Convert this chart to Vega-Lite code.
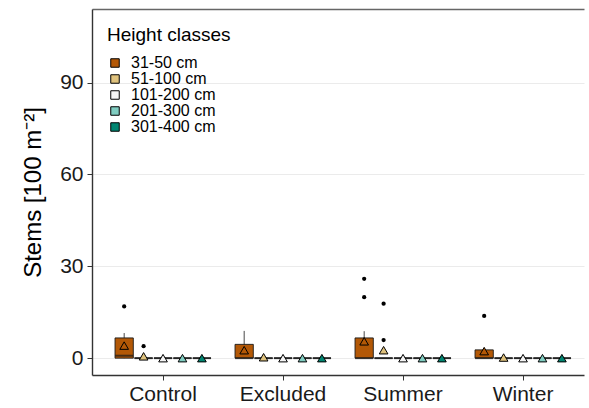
{
  "$schema": "https://vega.github.io/schema/vega-lite/v6.json",
  "width": 492,
  "height": 366,
  "autosize": {"type": "none"},
  "padding": {"left": 92, "top": 9, "right": 5, "bottom": 33},
  "background": "white",
  "config": {
    "font": "Liberation Sans",
    "view": {"stroke": "transparent", "strokeWidth": 0},
    "axis": {"domainColor": "#333333", "domainWidth": 1.4, "tickColor": "#333333", "tickSize": 5, "labelColor": "#1a1a1a", "labelFont": "Liberation Sans", "titleFont": "Liberation Sans"}
  },
  "datasets": {
    "stats": [
      {"site": "Control", "cls": "31-50 cm", "lower": 0, "q1": 0, "median": 0.8, "q3": 6.6, "upper": 8.2, "mean": 4.1},
      {"site": "Control", "cls": "51-100 cm", "lower": 0, "q1": 0, "median": 0, "q3": 0, "upper": 0, "mean": 0.6},
      {"site": "Control", "cls": "101-200 cm", "lower": 0, "q1": 0, "median": 0, "q3": 0, "upper": 0, "mean": 0},
      {"site": "Control", "cls": "201-300 cm", "lower": 0, "q1": 0, "median": 0, "q3": 0, "upper": 0, "mean": 0},
      {"site": "Control", "cls": "301-400 cm", "lower": 0, "q1": 0, "median": 0, "q3": 0, "upper": 0, "mean": 0},
      {"site": "Excluded", "cls": "31-50 cm", "lower": 0, "q1": 0, "median": 0, "q3": 4.5, "upper": 8.9, "mean": 2.6},
      {"site": "Excluded", "cls": "51-100 cm", "lower": 0, "q1": 0, "median": 0, "q3": 0, "upper": 0, "mean": 0.3},
      {"site": "Excluded", "cls": "101-200 cm", "lower": 0, "q1": 0, "median": 0, "q3": 0, "upper": 0, "mean": 0},
      {"site": "Excluded", "cls": "201-300 cm", "lower": 0, "q1": 0, "median": 0, "q3": 0, "upper": 0, "mean": 0},
      {"site": "Excluded", "cls": "301-400 cm", "lower": 0, "q1": 0, "median": 0, "q3": 0, "upper": 0, "mean": 0},
      {"site": "Summer", "cls": "31-50 cm", "lower": 0, "q1": 0, "median": 0, "q3": 6.6, "upper": 8.8, "mean": 5.5},
      {"site": "Summer", "cls": "51-100 cm", "lower": 0, "q1": 0, "median": 0, "q3": 0, "upper": 0, "mean": 2.6},
      {"site": "Summer", "cls": "101-200 cm", "lower": 0, "q1": 0, "median": 0, "q3": 0, "upper": 0, "mean": 0},
      {"site": "Summer", "cls": "201-300 cm", "lower": 0, "q1": 0, "median": 0, "q3": 0, "upper": 0, "mean": 0},
      {"site": "Summer", "cls": "301-400 cm", "lower": 0, "q1": 0, "median": 0, "q3": 0, "upper": 0, "mean": 0},
      {"site": "Winter", "cls": "31-50 cm", "lower": 0, "q1": 0, "median": 0, "q3": 2.7, "upper": 2.7, "mean": 2.3},
      {"site": "Winter", "cls": "51-100 cm", "lower": 0, "q1": 0, "median": 0, "q3": 0, "upper": 0, "mean": 0.2},
      {"site": "Winter", "cls": "101-200 cm", "lower": 0, "q1": 0, "median": 0, "q3": 0, "upper": 0, "mean": 0},
      {"site": "Winter", "cls": "201-300 cm", "lower": 0, "q1": 0, "median": 0, "q3": 0, "upper": 0, "mean": 0},
      {"site": "Winter", "cls": "301-400 cm", "lower": 0, "q1": 0, "median": 0, "q3": 0, "upper": 0, "mean": 0}
    ],
    "outliers": [
      {"site": "Control", "cls": "31-50 cm", "value": 16.9},
      {"site": "Control", "cls": "51-100 cm", "value": 3.9},
      {"site": "Summer", "cls": "31-50 cm", "value": 25.9},
      {"site": "Summer", "cls": "31-50 cm", "value": 19.9},
      {"site": "Summer", "cls": "51-100 cm", "value": 17.8},
      {"site": "Summer", "cls": "51-100 cm", "value": 5.9},
      {"site": "Winter", "cls": "31-50 cm", "value": 13.8}
    ]
  },
  "resolve": {"axis": {"x": "independent"}},
  "layer": [
    {
      "data": {"name": "stats"},
      "mark": {"type": "rule", "color": "#333333", "strokeWidth": 0.9},
      "encoding": {
        "x": {
          "field": "site", "type": "nominal",
          "scale": {"domain": ["Control", "Excluded", "Summer", "Winter"], "paddingInner": 0.2, "paddingOuter": 0.15, "align": 0.64},
          "axis": {"title": null, "labelAngle": 0, "labelFontSize": 21, "labelPadding": 3, "grid": false}
        },
        "xOffset": {
          "field": "cls", "type": "nominal",
          "scale": {"domain": ["31-50 cm", "51-100 cm", "101-200 cm", "201-300 cm", "301-400 cm"], "paddingInner": 0.06, "paddingOuter": 0}
        },
        "y": {"field": "lower", "type": "quantitative",
          "scale": {"domain": [-5.5, 114], "nice": false, "zero": false},
          "axis": {"title": "Stems [100 m⁻²]", "titleFontSize": 24, "titleFontWeight": "normal", "titleColor": "#000000", "titlePadding": 14, "values": [0, 30, 60, 90], "labelFontSize": 21, "labelPadding": 4, "grid": true, "gridColor": "#ebebeb", "gridWidth": 1.2}},
        "y2": {"field": "upper"}
      }
    },
    {
      "data": {"name": "stats"},
      "mark": {"type": "bar", "stroke": "#1a1a1a", "strokeWidth": 0.9},
      "encoding": {
        "x": {"field": "site", "type": "nominal", "axis": {"orient": "top", "title": null, "labels": false, "ticks": false, "domain": true, "domainColor": "#666666", "domainWidth": 1.3, "grid": false}},
        "xOffset": {"field": "cls", "type": "nominal"},
        "y": {"field": "q1", "type": "quantitative"},
        "y2": {"field": "q3"},
        "color": {
          "field": "cls", "type": "nominal",
          "scale": {"domain": ["31-50 cm", "51-100 cm", "101-200 cm", "201-300 cm", "301-400 cm"], "range": ["#b35806", "#dfc27d", "#f5f5f5", "#80cdc1", "#018571"]},
          "legend": {"title": "Height classes", "orient": "none", "legendX": 15, "legendY": 17, "padding": 0, "titleFontSize": 19, "titleFontWeight": "normal", "titleColor": "#000000", "titlePadding": 10, "labelFontSize": 16, "labelColor": "#000000", "labelOffset": 8, "rowPadding": -2.5, "symbolType": "square", "symbolSize": 72, "symbolStrokeColor": "#000000", "symbolStrokeWidth": 1, "symbolOpacity": 1}
        }
      }
    },
    {
      "data": {"name": "stats"},
      "mark": {"type": "tick", "color": "#1a1a1a", "thickness": 2, "size": 18, "orient": "horizontal"},
      "encoding": {
        "x": {"field": "site", "type": "nominal", "axis": null},
        "xOffset": {"field": "cls", "type": "nominal"},
        "y": {"field": "median", "type": "quantitative"}
      }
    },
    {
      "data": {"name": "outliers"},
      "mark": {"type": "point", "filled": true, "color": "#000000", "size": 18, "opacity": 1},
      "encoding": {
        "x": {"field": "site", "type": "nominal", "axis": null},
        "xOffset": {"field": "cls", "type": "nominal"},
        "y": {"field": "value", "type": "quantitative"}
      }
    },
    {
      "data": {"name": "stats"},
      "mark": {"type": "point", "shape": "triangle-up", "filled": true, "stroke": "#000000", "strokeWidth": 1, "size": 75, "opacity": 1},
      "encoding": {
        "x": {"field": "site", "type": "nominal", "axis": null},
        "xOffset": {"field": "cls", "type": "nominal"},
        "y": {"field": "mean", "type": "quantitative"},
        "color": {"field": "cls", "type": "nominal", "legend": null}
      }
    }
  ]
}
